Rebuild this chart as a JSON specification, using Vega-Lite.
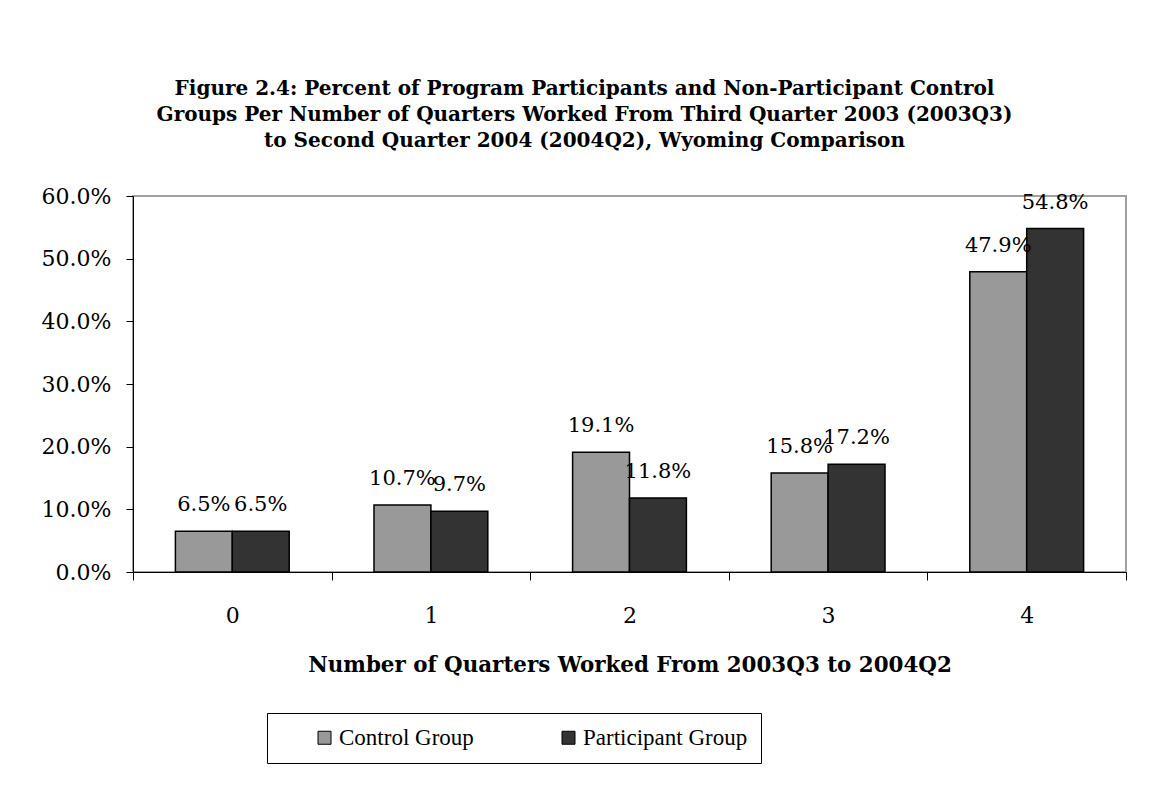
{
  "$schema": "https://vega.github.io/schema/vega-lite/v6.json",
  "width": 993,
  "height": 376,
  "autosize": "none",
  "padding": {"left": 133, "top": 196, "right": 43, "bottom": 216},
  "background": "white",
  "title": {
    "text": [
      "Figure 2.4: Percent of Program Participants and Non-Participant Control",
      "Groups Per Number of Quarters Worked From Third Quarter 2003 (2003Q3)",
      "to Second Quarter 2004 (2004Q2), Wyoming Comparison"
    ],
    "font": "DejaVu Serif",
    "fontSize": 20,
    "fontWeight": "bold",
    "anchor": "middle",
    "dx": -45,
    "offset": 34,
    "lineHeight": 26,
    "color": "black"
  },
  "data": {
    "values": [
      {"quarters": "0", "group": "Control Group", "pct": 0.065},
      {"quarters": "0", "group": "Participant Group", "pct": 0.065},
      {"quarters": "1", "group": "Control Group", "pct": 0.107},
      {"quarters": "1", "group": "Participant Group", "pct": 0.097},
      {"quarters": "2", "group": "Control Group", "pct": 0.191},
      {"quarters": "2", "group": "Participant Group", "pct": 0.118},
      {"quarters": "3", "group": "Control Group", "pct": 0.158},
      {"quarters": "3", "group": "Participant Group", "pct": 0.172},
      {"quarters": "4", "group": "Control Group", "pct": 0.479},
      {"quarters": "4", "group": "Participant Group", "pct": 0.548}
    ]
  },
  "encoding": {
    "x": {
      "field": "quarters",
      "type": "nominal",
      "scale": {"paddingInner": 0, "paddingOuter": 0},
      "axis": {
        "labelAngle": 0,
        "tickBand": "extent",
        "tickSize": 8,
        "labelPadding": 25,
        "title": "Number of Quarters Worked From 2003Q3 to 2004Q2",
        "titleFont": "DejaVu Serif",
        "titleFontSize": 21.4,
        "titleFontWeight": "bold",
        "titlePadding": 28,
        "titleColor": "black",
        "domainColor": "black",
        "tickColor": "black",
        "labelFont": "DejaVu Serif",
        "labelFontSize": 22,
        "labelColor": "black"
      }
    },
    "xOffset": {
      "field": "group",
      "type": "nominal",
      "scale": {"paddingInner": 0, "paddingOuter": 0.745}
    },
    "y": {
      "field": "pct",
      "type": "quantitative",
      "scale": {"domain": [0, 0.6]},
      "axis": {
        "title": null,
        "grid": false,
        "format": ".1%",
        "values": [0, 0.1, 0.2, 0.3, 0.4, 0.5, 0.6],
        "tickSize": 7,
        "labelPadding": 15,
        "domainColor": "black",
        "tickColor": "black",
        "labelFont": "DejaVu Serif",
        "labelFontSize": 22,
        "labelColor": "black"
      }
    }
  },
  "layer": [
    {
      "mark": {"type": "bar", "stroke": "black", "strokeWidth": 1.5},
      "encoding": {
        "color": {
          "field": "group",
          "type": "nominal",
          "scale": {"domain": ["Control Group", "Participant Group"], "range": ["#999999", "#333333"]},
          "legend": {
            "title": null,
            "orient": "none",
            "legendX": 134,
            "legendY": 517,
            "direction": "horizontal",
            "strokeColor": "black",
            "fillColor": "white",
            "padding": 13,
            "symbolType": "square",
            "symbolSize": 169,
            "symbolOffset": 33,
            "symbolStrokeColor": "black",
            "symbolStrokeWidth": 1,
            "labelFont": "Liberation Serif",
            "labelFontSize": 23,
            "labelColor": "black",
            "labelOffset": 3,
            "labelLimit": 400,
            "columnPadding": 50
          }
        }
      }
    },
    {
      "mark": {"type": "text", "dy": -26, "baseline": "middle", "font": "DejaVu Serif", "fontSize": 21, "color": "black"},
      "encoding": {
        "text": {"field": "pct", "type": "quantitative", "format": ".1%"}
      }
    }
  ],
  "config": {"view": {"stroke": "#a0a0a0", "strokeWidth": 2}}
}
